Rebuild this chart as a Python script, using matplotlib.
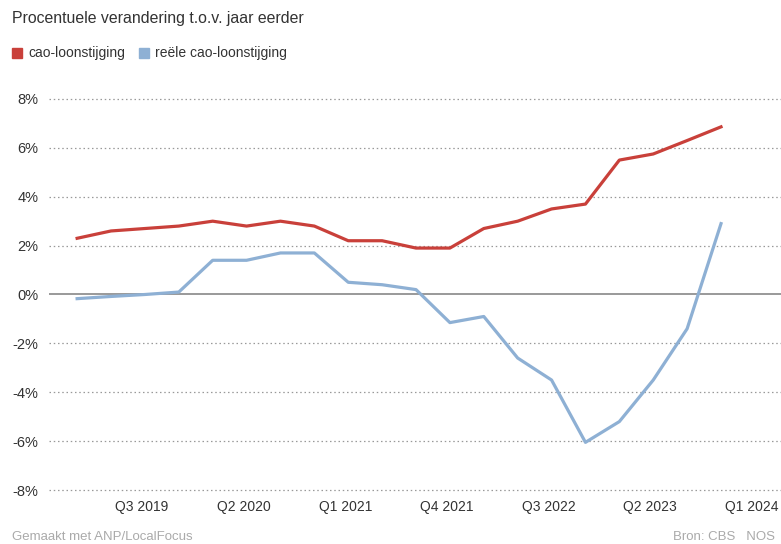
import matplotlib
matplotlib.use("Agg")
import matplotlib.pyplot as plt
import matplotlib.transforms as mtransforms
import numpy as np

plt.rcParams['font.family'] = ['Liberation Sans', 'DejaVu Sans']

quarters = ['Q1 2019', 'Q2 2019', 'Q3 2019', 'Q4 2019',
            'Q1 2020', 'Q2 2020', 'Q3 2020', 'Q4 2020',
            'Q1 2021', 'Q2 2021', 'Q3 2021', 'Q4 2021',
            'Q1 2022', 'Q2 2022', 'Q3 2022', 'Q4 2022',
            'Q1 2023', 'Q2 2023', 'Q3 2023', 'Q4 2023']
cao = [2.3, 2.6, 2.7, 2.8, 3.0, 2.8, 3.0, 2.8, 2.2, 2.2, 1.9, 1.9,
       2.7, 3.0, 3.5, 3.7, 5.5, 5.75, 6.3, 6.86]
reeel = [-0.17, -0.08, 0.0, 0.1, 1.4, 1.4, 1.7, 1.7, 0.5, 0.4, 0.2, -1.15,
         -0.9, -2.6, -3.5, -6.05, -5.2, -3.5, -1.4, 2.9]
tick_labels = ['Q3 2019', 'Q2 2020', 'Q1 2021', 'Q4 2021', 'Q3 2022', 'Q2 2023', 'Q1 2024']
tick_pos = [2, 5, 8, 11, 14, 17, 20]
yticks = [-8, -6, -4, -2, 0, 2, 4, 6, 8]

red = '#c9403a'
blue = '#8eb0d4'
W, H = 781, 544

fig = plt.figure(figsize=(W / 100, H / 100), dpi=100)
ax = fig.add_axes([49 / W, 1 - 494.9 / H, 1 - 49 / W, 400.8 / H])

x = np.arange(len(quarters))
ax.plot(x, cao, color=red, lw=2.3, solid_joinstyle='round', zorder=3)
ax.plot(x, reeel, color=blue, lw=2.3, solid_joinstyle='round', zorder=3)

for v in yticks:
    if v == 0:
        ax.axhline(v, color='#888888', lw=1.2, zorder=2)
    else:
        ax.axhline(v, color='#999999', lw=0.9, ls=(0, (1.2, 2.2)), zorder=1)

ax.set_xlim(-0.83, 20.77)
ax.set_ylim(-8.2, 8.2)
ax.set_yticks(yticks)
ax.set_yticklabels([f'{v}%' for v in yticks])
ax.set_xticks(tick_pos)
ax.set_xticklabels(tick_labels)
ax.tick_params(axis='y', length=0, labelsize=10.5, labelcolor='#333333', pad=7.5)
ax.tick_params(axis='x', length=0, labelsize=10, labelcolor='#333333', pad=3.5)
shift = mtransforms.ScaledTranslation(-3 / 100, 0, fig.dpi_scale_trans)
for lab in ax.get_xticklabels():
    lab.set_transform(lab.get_transform() + shift)
for s in ax.spines.values():
    s.set_visible(False)

fig.text(12 / W, 1 - 18 / H, 'Procentuele verandering t.o.v. jaar eerder',
         fontsize=11.4, color='#333333', va='center', ha='left')

# legend
fig.patches.append(plt.Rectangle((12 / W, 1 - 58 / H), 10 / W, 10 / H,
                                 transform=fig.transFigure, color=red))
fig.text(28 / W, 1 - 53 / H, 'cao-loonstijging', fontsize=10, color='#333333', va='center')
fig.patches.append(plt.Rectangle((139 / W, 1 - 58 / H), 10 / W, 10 / H,
                                 transform=fig.transFigure, color=blue))
fig.text(155 / W, 1 - 53 / H, 'reële cao-loonstijging', fontsize=10, color='#333333', va='center')

fig.text(12 / W, 1 - 537 / H, 'Gemaakt met ANP/LocalFocus', fontsize=9.5, color='#aaaaaa', va='center')
fig.text(775 / W, 1 - 537 / H, 'Bron: CBS   NOS', fontsize=9.5, color='#aaaaaa', va='center', ha='right')

fig.savefig('out.png', dpi=100)
